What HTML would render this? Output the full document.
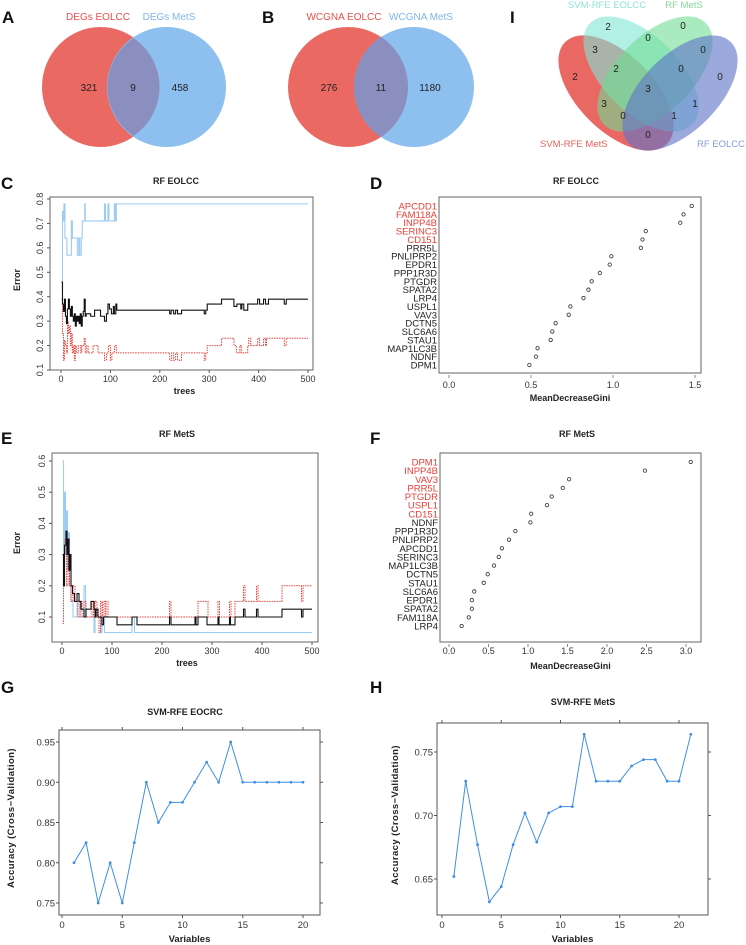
<!DOCTYPE html>
<html><head><meta charset="utf-8">
<style>
html,body{margin:0;padding:0;background:#fff;}
svg{display:block;font-family:"Liberation Sans",sans-serif;}
</style></head>
<body>
<svg id="fig" width="746" height="945" viewBox="0 0 746 945" xmlns="http://www.w3.org/2000/svg">
<defs>
<clipPath id="clipC"><rect x="50" y="197" width="263" height="173"/></clipPath>
<clipPath id="clipE"><rect x="52" y="453" width="266" height="189"/></clipPath>
</defs>
<g font-weight="bold" font-size="17" fill="#111">
<text x="2" y="23">A</text>
<text x="262" y="23">B</text>
<text x="510" y="23">I</text>
<text x="1" y="189">C</text>
<text x="370" y="189">D</text>
<text x="1" y="444">E</text>
<text x="370" y="444">F</text>
<text x="1" y="693">G</text>
<text x="370" y="693">H</text>
</g>
<g font-size="10">
<ellipse cx="100.5" cy="87" rx="58.5" ry="60" fill="#EA6963"/>
<ellipse cx="166.5" cy="87" rx="59.5" ry="60" fill="#8DBFEF"/>
<path d="" id="ovA" fill="#8A8FC0"/>
<text x="98" y="20" fill="#E8504A" text-anchor="middle">DEGs EOLCC</text>
<text x="169" y="20" fill="#7FB5EC" text-anchor="middle">DEGs MetS</text>
<text x="89" y="91" text-anchor="middle" fill="#222">321</text>
<text x="133" y="91" text-anchor="middle" fill="#222">9</text>
<text x="180" y="91" text-anchor="middle" fill="#222">458</text>
</g>
<g font-size="10">
<ellipse cx="348" cy="87" rx="60" ry="60" fill="#EA6963"/>
<ellipse cx="414" cy="87" rx="60" ry="60" fill="#8DBFEF"/>
<path d="" id="ovB" fill="#8A8FC0"/>
<text x="344" y="20" fill="#E8504A" text-anchor="middle">WCGNA EOLCC</text>
<text x="421" y="20" fill="#7FB5EC" text-anchor="middle">WCGNA MetS</text>
<text x="329" y="91" text-anchor="middle" fill="#222">276</text>
<text x="381" y="91" text-anchor="middle" fill="#222">11</text>
<text x="430" y="91" text-anchor="middle" fill="#222">1180</text>
</g>
<g font-size="10">
<ellipse cx="616" cy="93" rx="38" ry="72" transform="rotate(-45 616 93)" fill="#E8605C" fill-opacity="0.95"/>
<ellipse cx="641" cy="74" rx="38" ry="72" transform="rotate(-45 641 74)" fill="#7FE6D6" fill-opacity="0.6"/>
<ellipse cx="655" cy="74" rx="38" ry="72" transform="rotate(45 655 74)" fill="#6FDC92" fill-opacity="0.6"/>
<ellipse cx="680" cy="93" rx="38" ry="72" transform="rotate(45 680 93)" fill="#5F74C8" fill-opacity="0.62"/>
<text x="607" y="8" fill="#8FE3D6" text-anchor="middle" font-size="9.5">SVM-RFE EOLCC</text>
<text x="684" y="8" fill="#86D89A" text-anchor="middle" font-size="9.5">RF MetS</text>
<text x="540" y="147" fill="#E8605C" text-anchor="start" font-size="9.5">SVM-RFE MetS</text>
<text x="745" y="147" fill="#8A9AD8" text-anchor="end" font-size="9.5">RF EOLCC</text>
<g fill="#222" text-anchor="middle">
<text x="608" y="30">2</text><text x="683" y="29">0</text><text x="648" y="41">0</text>
<text x="595" y="53">3</text><text x="703" y="53">0</text><text x="575" y="80">2</text>
<text x="616" y="72">2</text><text x="681" y="72">0</text><text x="720" y="80">0</text>
<text x="648" y="92">3</text><text x="604" y="107">3</text><text x="695" y="107">1</text>
<text x="623" y="119">0</text><text x="674" y="119">1</text><text x="648" y="138">0</text>
</g>
</g>
<g id="charts"></g>
</svg>
<script>
const cTreesOob=[1,3,5,7,9,11,13,15,17,19,21,23,25,27,29,31,33,35,37,39,41,43,45,47,49,51,60,68,80,88,92,95,98,102,106,108,111,113,220,223,228,232,236,244,290,293,296,325,350,356,364,366,370,378,398,402,410,414,420,452,456,500];
const cOob=[.46,.37,.34,.39,.32,.29,.35,.39,.35,.32,.36,.32,.30,.33,.28,.32,.30,.32,.29,.33,.28,.32,.34,.39,.32,.33,.32,.345,.32,.30,.33,.37,.35,.33,.36,.33,.37,.345,.33,.345,.33,.345,.33,.345,.33,.345,.37,.39,.36,.37,.35,.37,.345,.37,.39,.37,.39,.37,.39,.37,.39,.39];
const cTreesRed=[1,3,5,7,9,11,13,15,17,19,21,23,25,27,29,31,35,40,42,47,49,52,55,65,75,88,92,96,100,103,108,112,220,224,228,232,236,244,290,293,296,325,350,355,362,365,378,380,384,398,402,410,414,416,452,456,500];
const cRed=[.39,.25,.14,.22,.2,.17,.3,.25,.28,.2,.25,.17,.2,.14,.2,.17,.2,.17,.2,.23,.17,.2,.17,.2,.17,.14,.17,.2,.14,.17,.2,.17,.14,.17,.14,.17,.14,.17,.14,.17,.2,.23,.2,.17,.2,.17,.2,.23,.2,.23,.2,.23,.2,.23,.2,.23,.23];
const cTreesBlue=[1,3,5,6,8,12,21,23,33,36,38,41,43,48,49,88,90,95,97,108,110,112,500];
const cBlue=[.43,.75,.71,.78,.64,.57,.71,.64,.57,.64,.57,.64,.71,.78,.71,.78,.71,.78,.71,.78,.71,.78,.78];
const cTicksX=[0,100,200,300,400,500];
const cTicksY=[0.1,0.2,0.3,0.4,0.5,0.6,0.7,0.8];

const eTreesOob=[1,3,5,8,10,12,14,16,18,21,25,30,34,38,44,48,56,58,64,66,68,72,78,80,83,110,140,150,215,218,266,268,272,290,312,314,335,337,346,363,366,389,392,440,479,482,500];
const eOob=[.3,.2,.33,.375,.3,.35,.25,.3,.2,.175,.15,.175,.15,.125,.1,.125,.125,.15,.125,.1,.125,.1,.1,.075,.1,.075,.1,.075,.1,.075,.1,.075,.1,.075,.1,.075,.1,.075,.1,.125,.1,.125,.1,.125,.1,.125,.125];
const eTreesRed=[1,3,6,9,12,15,18,22,26,32,36,40,44,48,60,63,66,70,74,77,80,82,86,88,92,215,218,272,292,312,315,335,338,346,363,366,389,392,440,479,482,500];
const eRed=[.08,.3,.35,.2,.3,.2,.15,.2,.15,.1,.15,.1,.15,.1,.15,.1,.15,.1,.05,.15,.1,.15,.1,.15,.1,.15,.1,.15,.1,.15,.1,.15,.1,.15,.2,.15,.2,.15,.2,.15,.2,.2];
const eTreesBlue=[1,3,5,7,9,11,13,15,18,22,30,36,44,47,60,64,66,78,80,85,140,145,500];
const eBlue=[.6,.2,.5,.3,.44,.25,.37,.2,.15,.1,.15,.1,.2,.1,.1,.05,.1,.05,.1,.05,.1,.05,.05];
const eTicksX=[0,100,200,300,400,500];
const eTicksY=[0.1,0.2,0.3,0.4,0.5,0.6];

const dGenes=["APCDD1","FAM118A","INPP4B","SERINC3","CD151","PRR5L","PNLIPRP2","EPDR1","PPP1R3D","PTGDR","SPATA2","LRP4","USPL1","VAV3","DCTN5","SLC6A6","STAU1","MAP1LC3B","NDNF","DPM1"];
const dValues=[1.48,1.43,1.41,1.20,1.18,1.17,0.99,0.98,0.92,0.87,0.85,0.82,0.74,0.73,0.65,0.63,0.62,0.54,0.53,0.49];
const dHighlight=5;
const dTicks=[0,0.5,1.0,1.5];

const fGenes=["DPM1","INPP4B","VAV3","PRR5L","PTGDR","USPL1","CD151","NDNF","PPP1R3D","PNLIPRP2","APCDD1","SERINC3","MAP1LC3B","DCTN5","STAU1","SLC6A6","EPDR1","SPATA2","FAM118A","LRP4"];
const fValues=[3.06,2.48,1.52,1.44,1.30,1.24,1.04,1.03,0.84,0.76,0.67,0.63,0.57,0.49,0.44,0.32,0.29,0.29,0.25,0.16];
const fHighlight=7;
const fTicks=[0,0.5,1.0,1.5,2.0,2.5,3.0];

const gVars=[1,2,3,4,5,6,7,8,9,10,11,12,13,14,15,16,17,18,19,20];
const gAcc=[0.80,0.825,0.75,0.80,0.75,0.825,0.90,0.85,0.875,0.875,0.90,0.925,0.90,0.95,0.90,0.90,0.90,0.90,0.90,0.90];
const gTicksX=[0,5,10,15,20];
const gTicksY=[0.75,0.80,0.85,0.90,0.95];

const hVars=[1,2,3,4,5,6,7,8,9,10,11,12,13,14,15,16,17,18,19,20,21];
const hAcc=[0.652,0.727,0.677,0.632,0.644,0.677,0.702,0.679,0.702,0.707,0.707,0.764,0.727,0.727,0.727,0.739,0.744,0.744,0.727,0.727,0.764];
const hTicksX=[0,5,10,15,20];
const hTicksY=[0.65,0.70,0.75];

const NS="http://www.w3.org/2000/svg";
const root=document.getElementById('charts');
function mk(tag,attrs,parent){const e=document.createElementNS(NS,tag);for(const k in attrs)e.setAttribute(k,attrs[k]);(parent||root).appendChild(e);return e;}
function lin(d0,d1,r0,r1){return v=>r0+(v-d0)*(r1-r0)/(d1-d0);}
function fmt(v,d){return v.toFixed(d);}

function lens(id,c1,c2,r){const d=c2-c1;const h=Math.sqrt(r*r-(d/2)*(d/2));const mx=(c1+c2)/2;
document.getElementById(id).setAttribute('d',`M${mx},${87-h} A${r},${r} 0 0 1 ${mx},${87+h} A${r},${r} 0 0 1 ${mx},${87-h}Z`);}
lens('ovA',100.5,166.5,59);lens('ovB',348,414,60);

function stepPath(xs,ys,sx,sy){let d='';for(let i=0;i<xs.length;i++){const X=sx(xs[i]),Y=sy(ys[i]);if(i===0)d+=`M${X},${Y}`;else d+=`H${X}V${Y}`;}return d;}

function rfPlot(p){
  const g=mk('g',{});
  
  
  const sx=lin(0,500,p.x0,p.x500), sy=lin(p.yA,p.yB,p.pyA,p.pyB);
  const t=mk('text',{x:p.tx,y:p.ty,'text-anchor':'middle','font-size':9,'font-weight':'bold',fill:'#222'},g);t.textContent=p.title;
  
  
  const cg=mk('g',{'clip-path':`url(#${p.clip})`},g);
  const lb=mk('path',{d:stepPath(p.bx,p.by,sx,sy),fill:'none',stroke:'#9ECBF2','stroke-width':1.1},cg);
  
  
  const lr=mk('path',{d:stepPath(p.rx,p.ry,sx,sy),fill:'none',stroke:'#E8403A','stroke-width':1,'stroke-dasharray':'1.5,1'},cg);
  
  
  const lo=mk('path',{d:stepPath(p.ox,p.oy,sx,sy),fill:'none',stroke:'#111','stroke-width':1.1},cg);
  
  
  const box=mk('rect',{x:p.bx0,y:p.by0,width:p.bw,height:p.bh,fill:'none',stroke:'#666','stroke-width':1},g);
  
  
  const xa=mk('g',{'font-size':9,fill:'#333','text-anchor':'middle'},g);
  
  
  p.ticksX.forEach(v=>{mk('line',{x1:sx(v),x2:sx(v),y1:p.by0+p.bh,y2:p.by0+p.bh+3,stroke:'#555'},xa);
    const tt=mk('text',{x:sx(v),y:p.by0+p.bh+12},xa);tt.textContent=v;});
  const xt=mk('text',{x:(sx(0)+sx(500))/2,y:p.by0+p.bh+24,'font-weight':'bold','font-size':9,'text-anchor':'middle',fill:'#222'},g);xt.textContent='trees';
  
  
  const ya=mk('g',{'font-size':9,fill:'#333','text-anchor':'middle'},g);
  
  
  p.ticksY.forEach(v=>{const Y=sy(v);mk('line',{x1:p.bx0-3,x2:p.bx0,y1:Y,y2:Y,stroke:'#555'},ya);
    const tt=mk('text',{x:p.bx0-7,y:Y,transform:`rotate(-90 ${p.bx0-7} ${Y})`},ya);tt.textContent=fmt(v,1);});
  const yt=mk('text',{x:20,y:p.ylY,transform:`rotate(-90 20 ${p.ylY})`,'font-weight':'bold','font-size':9,'text-anchor':'middle',fill:'#222'},g);yt.textContent='Error';
  
  
}
rfPlot({name:'rf-eolcc-error-plot',title:'RF EOLCC',tx:176,ty:184,clip:'clipC',x0:61,x500:308,yA:0.1,yB:0.8,pyA:370,pyB:199,
  bx0:50,by0:197,bw:263,bh:173,ticksX:cTicksX,ticksY:cTicksY,ylY:280,
  ox:cTreesOob,oy:cOob,rx:cTreesRed,ry:cRed,bx:cTreesBlue,by:cBlue});
rfPlot({name:'rf-mets-error-plot',title:'RF MetS',tx:177,ty:437,clip:'clipE',x0:62,x500:312,yA:0.1,yB:0.6,pyA:617,pyB:461,
  bx0:52,by0:453,bw:266,bh:189,ticksX:eTicksX,ticksY:eTicksY,ylY:543,
  ox:eTreesOob,oy:eOob,rx:eTreesRed,ry:eRed,bx:eTreesBlue,by:eBlue});

function dotPlot(p){
  const g=mk('g',{});
  
  
  const sx=lin(0,p.tmax,p.x0,p.xmax);
  const t=mk('text',{x:p.tx,y:p.ty,'text-anchor':'middle','font-size':9,'font-weight':'bold',fill:'#222'},g);t.textContent=p.title;
  
  
  const box=mk('rect',{x:p.bx0,y:p.by0,width:p.bw,height:p.bh,fill:'none',stroke:'#666'},g);
  
  
  p.genes.forEach((gn,i)=>{const Y=p.r0+i*p.rs;
    const lt=mk('text',{x:p.bx0-2,y:Y+3.5,'text-anchor':'end','font-size':9.5,fill:i<p.hl?'#E8403A':'#222'},g);lt.textContent=gn;
    
    
    const c=mk('circle',{cx:sx(p.values[i]),cy:Y,r:1.7,fill:'none',stroke:'#444','stroke-width':0.9},g);
    
    });
  const xa=mk('g',{'font-size':9,fill:'#333','text-anchor':'middle'},g);
  
  
  const yb=p.by0+p.bh;
  p.ticks.forEach(v=>{mk('line',{x1:sx(v),x2:sx(v),y1:yb+2,y2:yb+5,stroke:'#888'},xa);
    const tt=mk('text',{x:sx(v),y:yb+p.tly},xa);tt.textContent=fmt(v,1);});
  const xt=mk('text',{x:(p.bx0+p.bx0+p.bw)/2,y:yb+p.tty,'font-weight':'bold','font-size':9,'text-anchor':'middle',fill:'#222'},g);xt.textContent='MeanDecreaseGini';
  
  
}
dotPlot({name:'rf-eolcc-importance-plot',title:'RF EOLCC',tx:576,ty:184,tmax:1.5,x0:449,xmax:695,bx0:439,by0:197,bw:262,bh:176,
  genes:dGenes,values:dValues,hl:dHighlight,ticks:dTicks,r0:206,rs:8.37,tly:15,tty:28});
dotPlot({name:'rf-mets-importance-plot',title:'RF MetS',tx:577,ty:437,tmax:3.0,x0:449,xmax:686,bx0:440,by0:453,bw:261,bh:189,
  genes:fGenes,values:fValues,hl:fHighlight,ticks:fTicks,r0:462,rs:8.63,tly:12,tty:27});

function svmPlot(p){
  const g=mk('g',{});
  
  
  const sx=lin(0,20,p.x0,p.x20), sy=lin(p.yA,p.yB,p.pyA,p.pyB);
  const t=mk('text',{x:p.tx,y:p.ty,'text-anchor':'middle','font-size':9,'font-weight':'bold',fill:'#222'},g);t.textContent=p.title;
  
  
  const box=mk('rect',{x:p.bx0,y:p.by0,width:p.bw,height:p.bh,fill:'none',stroke:'#555'},g);
  
  
  const ax=mk('g',{'font-size':9.5,fill:'#333'},g);
  
  
  const yb=p.by0+p.bh, xr=p.bx0+p.bw;
  p.ticksX.forEach(v=>{const X=sx(v);
    mk('line',{x1:X,x2:X,y1:yb,y2:yb+3,stroke:'#555'},ax);mk('line',{x1:X,x2:X,y1:p.by0,y2:p.by0-3,stroke:'#555'},ax);
    const tt=mk('text',{x:X,y:yb+13,'text-anchor':'middle'},ax);tt.textContent=v;});
  p.ticksY.forEach(v=>{const Y=sy(v);
    mk('line',{x1:p.bx0,x2:p.bx0-3,y1:Y,y2:Y,stroke:'#555'},ax);mk('line',{x1:xr,x2:xr+3,y1:Y,y2:Y,stroke:'#555'},ax);
    const tt=mk('text',{x:p.bx0-4,y:Y+3.5,'text-anchor':'end'},ax);tt.textContent=fmt(v,2);});
  const pts=p.vars.map((v,i)=>sx(v)+','+sy(p.acc[i])).join(' ');
  const ln=mk('polyline',{points:pts,fill:'none',stroke:'#3E8FE6','stroke-width':1},g);
  
  
  p.vars.forEach((v,i)=>{const c=mk('circle',{cx:sx(v),cy:sy(p.acc[i]),r:1.4,fill:'#3E8FE6'},g);
    
    });
  const xt=mk('text',{x:(p.bx0+xr)/2,y:942,'font-weight':'bold','font-size':9.5,'text-anchor':'middle',fill:'#222'},g);xt.textContent='Variables';
  
  
  const yt=mk('text',{x:p.ylx,y:p.yly,transform:`rotate(-90 ${p.ylx} ${p.yly})`,'font-weight':'bold','font-size':9.5,'text-anchor':'middle',fill:'#222','letter-spacing':'0.4'},g);yt.textContent='Accuracy (Cross\u2212Validation)';
  
  
}
svmPlot({name:'svm-rfe-eocrc-plot',title:'SVM-RFE EOCRC',tx:185,ty:715,x0:62,x20:303,yA:0.75,yB:0.95,pyA:903,pyB:742,
  bx0:59,by0:730,bw:261,bh:185,ticksX:gTicksX,ticksY:gTicksY,vars:gVars,acc:gAcc,ylx:14,yly:818});
svmPlot({name:'svm-rfe-mets-plot',title:'SVM-RFE MetS',tx:583,ty:705,x0:442,x20:679,yA:0.65,yB:0.75,pyA:879,pyB:752,
  bx0:437,by0:723,bw:271,bh:192,ticksX:hTicksX,ticksY:hTicksY,vars:hVars,acc:hAcc,ylx:398,yly:815});
</script>
</body></html>
